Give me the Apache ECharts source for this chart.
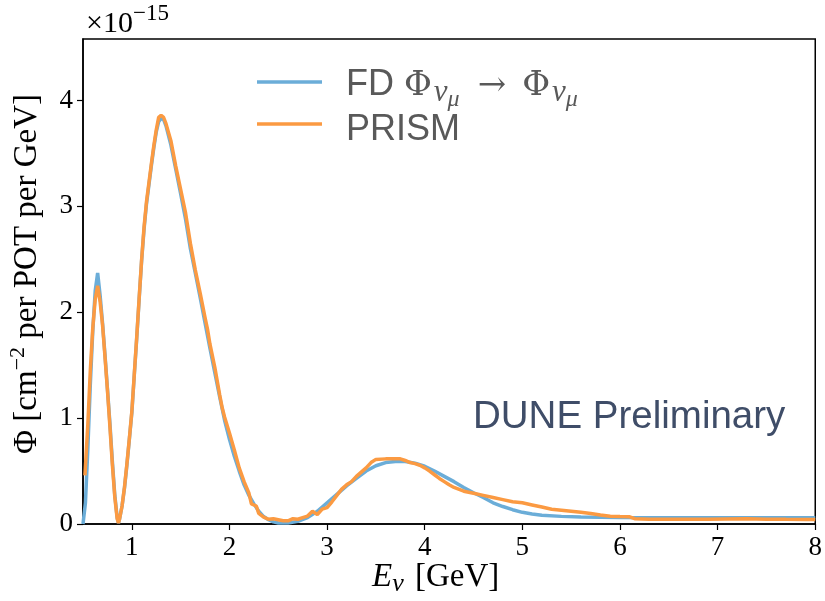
<!DOCTYPE html>
<html>
<head>
<meta charset="utf-8">
<script src="https://cdn.jsdelivr.net/npm/echarts@6/dist/echarts.min.js"></script>
<style>
  html, body { margin: 0; padding: 0; background: #ffffff; }
  #chart { width: 825px; height: 601px; }
</style>
</head>
<body>
<div id="chart"></div>
<script>
// Far-detector muon-neutrino flux (units of 1e-15 cm^-2 per POT per GeV)
const fdEnergy = [
  0.500, 0.525, 0.550, 0.575, 0.600, 0.625, 0.650, 0.675, 0.700, 0.725,
  0.750, 0.775, 0.800, 0.825, 0.850, 0.863, 0.875, 0.900, 0.925, 0.950,
  0.975, 1.000, 1.025, 1.050, 1.075, 1.100, 1.125, 1.150, 1.175, 1.200,
  1.225, 1.250, 1.275, 1.300, 1.325, 1.350, 1.400, 1.450, 1.500, 1.550,
  1.600, 1.650, 1.700, 1.750, 1.800, 1.850, 1.900, 1.950, 2.000, 2.050,
  2.100, 2.150, 2.200, 2.250, 2.300, 2.350, 2.400, 2.450, 2.500, 2.600,
  2.700, 2.800, 2.900, 3.000, 3.100, 3.200, 3.300, 3.400, 3.500, 3.600,
  3.700, 3.800, 3.900, 4.000, 4.100, 4.200, 4.300, 4.400, 4.500, 4.600,
  4.700, 4.800, 4.900, 5.000, 5.100, 5.200, 5.400, 5.600, 6.000, 6.500,
  7.000, 7.500, 8.000
];
const fdFlux = [
  0.00, 0.20, 0.72, 1.32, 1.82, 2.20, 2.37, 2.16, 1.90, 1.60,
  1.28, 0.96, 0.60, 0.28, 0.06, 0.01, 0.05, 0.17, 0.34, 0.56,
  0.80, 1.05, 1.40, 1.75, 2.12, 2.48, 2.78, 3.02, 3.20, 3.38,
  3.55, 3.70, 3.80, 3.83, 3.82, 3.76, 3.58, 3.35, 3.12, 2.88,
  2.60, 2.37, 2.14, 1.90, 1.66, 1.43, 1.20, 0.98, 0.80, 0.64,
  0.50, 0.37, 0.27, 0.19, 0.12, 0.07, 0.04, 0.02, 0.01, 0.01,
  0.025, 0.06, 0.12, 0.20, 0.28, 0.36, 0.43, 0.50, 0.55, 0.58,
  0.59, 0.59, 0.575, 0.545, 0.50, 0.45, 0.40, 0.345, 0.295, 0.25,
  0.20, 0.165, 0.135, 0.11, 0.095, 0.083, 0.072, 0.066, 0.061, 0.059,
  0.058, 0.058, 0.058
];

// PRISM linear-combination prediction
const prismEnergy = [
  0.520, 0.550, 0.575, 0.600, 0.625, 0.650, 0.675, 0.700, 0.725, 0.750,
  0.775, 0.800, 0.825, 0.850, 0.863, 0.875, 0.900, 0.925, 0.950, 0.975,
  1.000, 1.025, 1.050, 1.075, 1.100, 1.125, 1.150, 1.175, 1.200, 1.225,
  1.250, 1.275, 1.300, 1.325, 1.350, 1.375, 1.400, 1.450, 1.500, 1.550,
  1.600, 1.650, 1.700, 1.750, 1.775, 1.800, 1.850, 1.900, 1.925, 1.950,
  2.000, 2.050, 2.100, 2.150, 2.200, 2.225, 2.275, 2.300, 2.350, 2.400,
  2.450, 2.500, 2.550, 2.600, 2.650, 2.700, 2.750, 2.800, 2.850, 2.900,
  2.950, 3.000, 3.050, 3.100, 3.150, 3.200, 3.250, 3.300, 3.350, 3.400,
  3.450, 3.500, 3.600, 3.700, 3.750, 3.800, 3.850, 3.900, 3.950, 4.000,
  4.050, 4.100, 4.150, 4.200, 4.250, 4.300, 4.400, 4.500, 4.600, 4.700,
  4.800, 4.900, 5.000, 5.100, 5.200, 5.300, 5.400, 5.500, 5.600, 5.700,
  5.800, 5.900, 6.000, 6.100, 6.150, 6.300, 6.500, 6.700, 6.900, 7.100,
  7.300, 7.500, 7.700, 7.900, 8.000
];
const prismFlux = [
  0.46, 0.95, 1.45, 1.85, 2.12, 2.25, 2.10, 1.88, 1.58, 1.27,
  0.93, 0.57, 0.26, 0.05, 0.01, 0.05, 0.17, 0.35, 0.57, 0.81,
  1.06, 1.41, 1.76, 2.13, 2.49, 2.80, 3.04, 3.22, 3.40, 3.57,
  3.72, 3.84, 3.86, 3.84, 3.78, 3.70, 3.62, 3.38, 3.16, 2.94,
  2.65, 2.40, 2.18, 1.95, 1.84, 1.70, 1.48, 1.22, 1.10, 1.01,
  0.86, 0.70, 0.53, 0.40, 0.29, 0.19, 0.17, 0.10, 0.065, 0.045,
  0.05, 0.04, 0.03, 0.03, 0.05, 0.045, 0.06, 0.075, 0.12, 0.09,
  0.14, 0.155, 0.21, 0.27, 0.33, 0.37, 0.40, 0.45, 0.49, 0.53,
  0.58, 0.61, 0.615, 0.615, 0.615, 0.60, 0.58, 0.57, 0.555, 0.53,
  0.50, 0.465, 0.43, 0.40, 0.37, 0.345, 0.31, 0.29, 0.27, 0.25,
  0.23, 0.21, 0.20, 0.18, 0.16, 0.14, 0.13, 0.12, 0.11, 0.10,
  0.085, 0.074, 0.07, 0.068, 0.05, 0.045, 0.044, 0.046, 0.044, 0.047,
  0.05, 0.046, 0.044, 0.043, 0.043
];

const xTicks = [1, 2, 3, 4, 5, 6, 7, 8];
const yTicks = [0, 1, 2, 3, 4];

const blue = '#6badd8';
const orange = '#fb9a42';
const serif = '"Liberation Serif", "DejaVu Serif", serif';
const mathSerif = '"DejaVu Serif", "Liberation Serif", serif';
const sans = '"Liberation Sans", Arial, sans-serif';
const legendGray = '#595959';

// text width helper for laying out composite labels piece by piece
const measureCtx = document.createElement('canvas').getContext('2d');
function textWidth(font, s) { measureCtx.font = font; return measureCtx.measureText(s).width; }

// lay out a run of text pieces on a shared baseline
function textRun(x0, baseline, pieces) {
  const out = [];
  let x = x0;
  pieces.forEach(p => {
    const font = (p.style || 'normal') + ' ' + p.size + 'px ' + p.family;
    out.push({
      type: 'text',
      x: x,
      y: baseline + (p.dy || 0) - p.size * 0.33,
      style: { text: p.text, font: font, fill: p.color, verticalAlign: 'middle', textAlign: 'left' }
    });
    x += textWidth(font, p.text) + (p.gap || 0);
  });
  return out;
}

const pair = (xs, ys) => xs.map((x, i) => [x, ys[i]]);

const chart = echarts.init(document.getElementById('chart'), null, { renderer: 'canvas' });

const legendPieces1 = [
  { text: 'FD', size: 36, family: sans, color: legendGray, gap: 10 },
  { text: 'Φ', size: 34, family: mathSerif, color: legendGray, gap: 2 },
  { text: 'ν', size: 31, family: serif, style: 'italic', color: legendGray, dy: 6 },
  { text: 'μ', size: 24, family: serif, style: 'italic', color: legendGray, dy: 11, gap: 18 },
  { text: '→', size: 34, family: mathSerif, color: legendGray, gap: 16 },
  { text: 'Φ', size: 34, family: mathSerif, color: legendGray, gap: 2 },
  { text: 'ν', size: 31, family: serif, style: 'italic', color: legendGray, dy: 6 },
  { text: 'μ', size: 24, family: serif, style: 'italic', color: legendGray, dy: 11 }
];

const graphics = [
  // legend keys
  { type: 'line', shape: { x1: 257, y1: 82, x2: 322, y2: 82 }, style: { stroke: blue, lineWidth: 3.5 } },
  { type: 'line', shape: { x1: 257, y1: 124, x2: 322, y2: 124 }, style: { stroke: orange, lineWidth: 3.5 } }
]
  .concat(textRun(346, 97, legendPieces1))
  .concat(textRun(346, 142, [{ text: 'PRISM', size: 36, family: sans, color: legendGray }]))
  // offset multiplier
  .concat(textRun(86, 34, [
    { text: '×10', size: 30, family: serif, color: '#000' },
    { text: '−15', size: 23, family: serif, color: '#000', dy: -12 }
  ]))
  // x-axis title
  .concat(textRun(372, 588, [
    { text: 'E', size: 33, family: serif, style: 'italic', color: '#000' },
    { text: 'ν', size: 26, family: serif, style: 'italic', color: '#000', dy: 5, gap: 3 },
    { text: ' [GeV]', size: 33, family: serif, color: '#000' }
  ]))
  .concat([
    {
      type: 'text', x: 473, y: 417,
      style: { text: 'DUNE Preliminary', font: '38.5px ' + sans, fill: '#3f4d68', verticalAlign: 'middle', textAlign: 'left' }
    },
    // y-axis title, rotated to read bottom-to-top
    {
      type: 'group', x: 38, y: 454, rotation: Math.PI / 2,
      children: textRun(0, 0, [
        { text: 'Φ [cm', size: 33, family: serif, color: '#000' },
        { text: '−2', size: 22, family: serif, color: '#000', dy: -13 },
        { text: ' per POT per GeV]', size: 33, family: serif, color: '#000' }
      ])
    }
  ]);

chart.setOption({
  animation: false,
  backgroundColor: '#ffffff',
  grid: { left: 83, right: 6, top: 39, bottom: 77, show: true, borderColor: '#000', borderWidth: 1.5, backgroundColor: 'transparent' },
  xAxis: {
    type: 'value', min: 0.5, max: 8,
    axisLine: { show: true, lineStyle: { color: '#000', width: 1.5 } },
    axisTick: { show: true, customValues: xTicks, length: 6, lineStyle: { color: '#000', width: 1.2 } },
    axisLabel: { customValues: xTicks, fontFamily: serif, fontSize: 27, color: '#000', margin: 10 },
    splitLine: { show: false }
  },
  yAxis: {
    type: 'value', min: 0, max: 4.58,
    axisLine: { show: true, lineStyle: { color: '#000', width: 1.5 } },
    axisTick: { show: true, customValues: yTicks, length: 6, lineStyle: { color: '#000', width: 1.2 } },
    axisLabel: { customValues: yTicks, fontFamily: serif, fontSize: 27, color: '#000', margin: 10 },
    splitLine: { show: false }
  },
  series: [
    {
      name: 'FD', type: 'line', data: pair(fdEnergy, fdFlux), showSymbol: false,
      lineStyle: { color: blue, width: 3.5 }, z: 2
    },
    {
      name: 'PRISM', type: 'line', data: pair(prismEnergy, prismFlux), showSymbol: false,
      lineStyle: { color: orange, width: 3.5 }, z: 3
    }
  ],
  graphic: graphics
});
</script>
</body>
</html>
